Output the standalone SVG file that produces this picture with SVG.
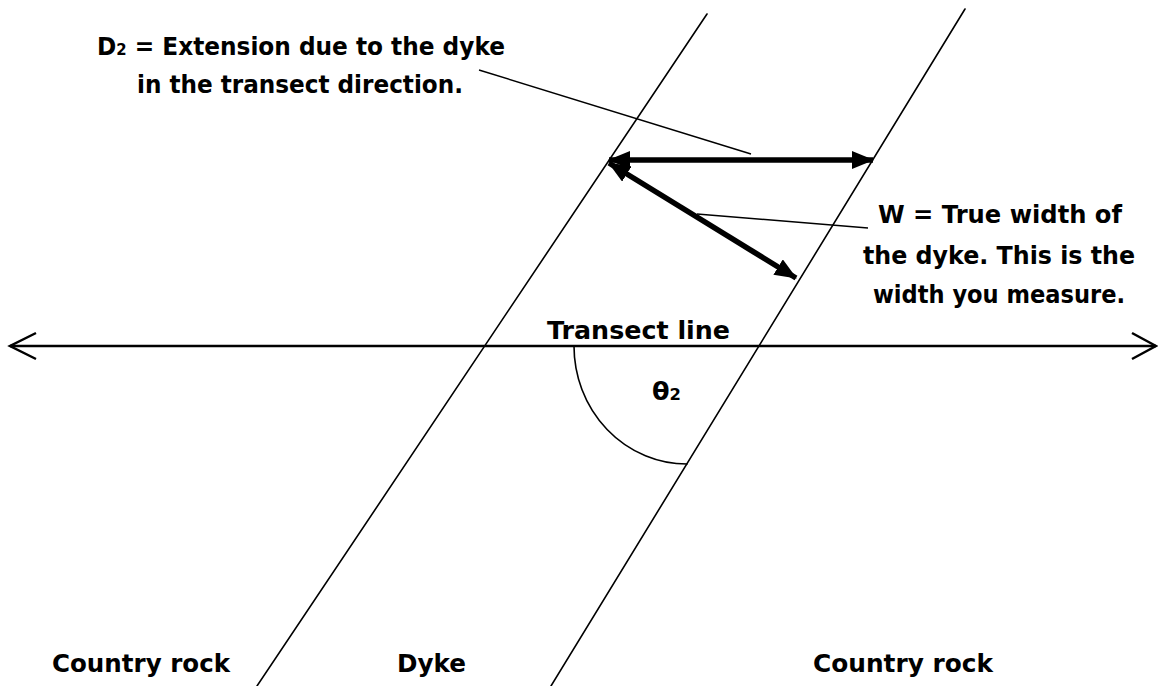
<svg xmlns="http://www.w3.org/2000/svg" width="1158" height="686" viewBox="0 0 1158 686">
  <style>
    .lbl { font-family: "DejaVu Sans", "Liberation Sans", sans-serif; font-weight: bold; font-size: 25px; fill: #000; }
    .sub { font-size: 16px; }
    .thin { stroke: #000; stroke-width: 1.6; fill: none; stroke-linecap: round; }
    .leader { stroke: #000; stroke-width: 1.4; fill: none; }
    .thick { stroke: #000; stroke-width: 5.5; fill: none; }
    .transect { stroke: #000; stroke-width: 2.5; fill: none; }
  </style>
  <defs>
    <marker id="head" viewBox="0 0 22 18" refX="21" refY="9" markerWidth="22" markerHeight="18" markerUnits="userSpaceOnUse" orient="auto-start-reverse">
      <path d="M0,0 L22,9 L0,18 Z" fill="#000"/>
    </marker>
  </defs>
  <rect width="1158" height="686" fill="#fff"/>

  <g id="dyke">
    <line class="thin" x1="707" y1="14" x2="257" y2="686"/>
    <line class="thin" x1="965" y1="9" x2="551" y2="686"/>
  </g>

  <g id="transect">
    <line class="transect" x1="10" y1="346" x2="1156" y2="346"/>
    <polyline class="transect" points="36,333 10,346 36,359"/>
    <polyline class="transect" points="1132,333 1156,346 1132,359"/>
  </g>

  <g id="angle">
    <path class="thin" d="M574,346 A113,118 0 0 0 687,464"/>
  </g>

  <g id="connectors">
    <line class="thick" x1="609" y1="160" x2="873" y2="160" marker-start="url(#head)" marker-end="url(#head)"/>
    <line class="thick" x1="609" y1="163" x2="796" y2="278" marker-start="url(#head)" marker-end="url(#head)"/>
    <line class="leader" x1="479" y1="70" x2="751" y2="154"/>
    <line class="leader" x1="697" y1="214" x2="868" y2="228"/>
  </g>

  <g id="label-d2">
    <text class="lbl" x="97" y="55" textLength="408" lengthAdjust="spacingAndGlyphs">D<tspan class="sub">2</tspan> = Extension due to the dyke</text>
    <text class="lbl" x="137" y="93" textLength="326" lengthAdjust="spacingAndGlyphs">in the transect direction.</text>
  </g>

  <g id="label-w">
    <text class="lbl" x="878" y="223" textLength="244" lengthAdjust="spacingAndGlyphs">W = True width of</text>
    <text class="lbl" x="863" y="264" textLength="272" lengthAdjust="spacingAndGlyphs">the dyke. This is the</text>
    <text class="lbl" x="873" y="303" textLength="252" lengthAdjust="spacingAndGlyphs">width you measure.</text>
  </g>

  <g id="label-transect">
    <text class="lbl" x="547" y="339" textLength="183" lengthAdjust="spacingAndGlyphs">Transect line</text>
  </g>

  <g id="label-theta">
    <text class="lbl" x="652" y="400" textLength="29" lengthAdjust="spacingAndGlyphs">θ<tspan class="sub">2</tspan></text>
  </g>

  <g id="label-country-left">
    <text class="lbl" x="52" y="672" textLength="178" lengthAdjust="spacingAndGlyphs">Country rock</text>
  </g>
  <g id="label-dyke">
    <text class="lbl" x="397" y="672" textLength="69" lengthAdjust="spacingAndGlyphs">Dyke</text>
  </g>
  <g id="label-country-right">
    <text class="lbl" x="813" y="672" textLength="180" lengthAdjust="spacingAndGlyphs">Country rock</text>
  </g>
</svg>
